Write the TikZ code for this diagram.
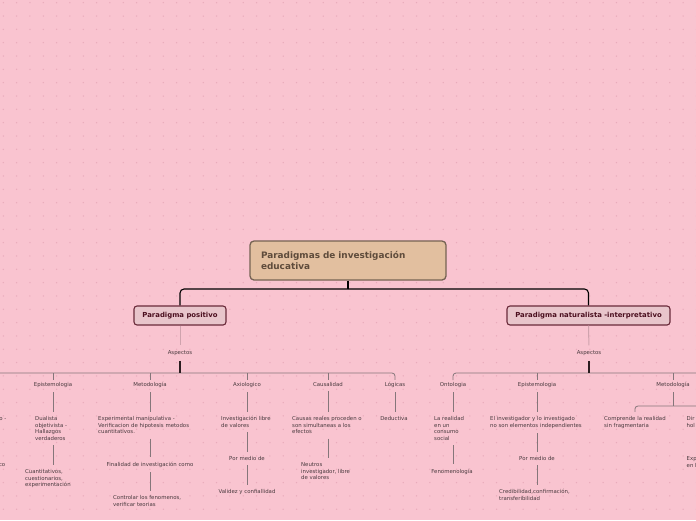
\documentclass[tikz,border=0pt]{standalone}
\usepackage{fontspec}
\setmainfont{DejaVu Sans}
\definecolor{bg}{HTML}{F9C4D0}
\definecolor{dotc}{HTML}{E9ABBB}
\definecolor{rootfill}{HTML}{E2BF9F}
\definecolor{rootdraw}{HTML}{756353}
\definecolor{roottext}{HTML}{5E4B3B}
\definecolor{parfill}{HTML}{E8C5CB}
\definecolor{pardraw}{HTML}{6A2A3A}
\definecolor{partext}{HTML}{4B0F1F}
\definecolor{txtc}{HTML}{4A3B3F}
\definecolor{connc}{HTML}{85767A}
\definecolor{lightc}{HTML}{CFA3AD}
\definecolor{stemc}{HTML}{2B1D20}
\begin{document}
\begin{tikzpicture}[x=1pt,y=-1pt,
  small/.style={font=\fontsize{5.4}{6.6}\selectfont, text=txtc, inner sep=0pt, align=left},
  hdr/.style={small, anchor=base},
  blk/.style={small, anchor=north west},
  frag/.style={small, anchor=base east},
  conn/.style={draw=connc, line width=0.8pt, shorten <=4.5pt, shorten >=4.5pt},
  bar/.style={draw=connc, line width=0.8pt, rounded corners=3pt},
  tick/.style={draw=connc, line width=0.8pt},
  lightstem/.style={draw=lightc, line width=1pt, shorten >=5pt},
  stem/.style={draw=stemc, line width=1.5pt, shorten <=5pt},
  rootbox/.style={draw=rootdraw, fill=rootfill, line width=1.3pt, rounded corners=4pt,
    text=roottext, font=\fontsize{8.9}{11}\selectfont\bfseries, align=left,
    text width=174pt, inner xsep=11pt, minimum height=39pt},
  parbox/.style={draw=pardraw, fill=parfill, line width=1.1pt, rounded corners=3pt,
    text=partext, font=\fontsize{6.9}{8}\selectfont\bfseries, minimum height=19pt, inner xsep=3pt},
  rootconn/.style={draw=black, line width=1.1pt, rounded corners=4pt}
]
\useasboundingbox (0,0) rectangle (696,520);
\fill[bg] (0,0) rectangle (696,520);
\begin{scope}
\clip (0,0) rectangle (696,520);
\foreach \i in {0,...,52}{\foreach \j in {0,...,39}{\fill[dotc] (3.3+13.33*\i,2.7+13.33*\j) circle (0.75pt);}}

% root and paradigms
\node[rootbox] (root) at (348,260.5) {Paradigmas de investigación\\educativa};
\node[parbox, minimum width=92pt] (pp) at (180,315.5) {Paradigma positivo};
\node[parbox, minimum width=163pt] (pn) at (588.5,315.5) {Paradigma naturalista -interpretativo};
\coordinate (rj) at (348,289);
\draw[draw=black, line width=1.1pt] (root.south) -- (rj);
\draw[rootconn] (rj) -| (pp.north);
\draw[rootconn] (rj) -| (pn.north);

% Aspectos
\node[hdr] (asp1) at (180,354.5) {Aspectos};
\node[hdr] (asp2) at (589,354.5) {Aspectos};
\coordinate (bL) at (180,373);
\coordinate (bR) at (589,373);
\coordinate (bLend) at (-40,373);
\coordinate (bRend) at (740,373);
\draw[lightstem] (pp.south) -- (asp1.north);
\draw[lightstem] (pn.south) -- (asp2.north);

% left headers
\node[hdr] (hE) at (53,386.5) {Epistemologia};
\node[hdr] (hM) at (150,386.5) {Metodología};
\node[hdr] (hA) at (247,386.5) {Axiologico};
\node[hdr] (hC) at (328,386.5) {Causalidad};
\node[hdr] (hL) at (395,386.5) {Lógicas};
\draw[bar] (bLend) -- (bL) -| ([yshift=2pt]hL.north);
\foreach \h in {hE,hM,hA,hC}{\draw[tick] (\h.north |- bL) -- ([yshift=2pt]\h.north);}
\draw[stem] (asp1.south) -- (bL);

% left blocks
\node[blk] (e1) at (35,416.4) {Dualista\\objetivista -\\Hallazgos\\verdaderos};
\node[blk] (e2) at (25,469.4) {Cuantitativos,\\cuestionarios,\\experimentación};
\node[blk] (m1) at (98,416.4) {Experimental manipulativa -\\Verificacion de hipotesis metodos\\cuantitativos.};
\node[hdr] (m2) at (150,466.5) {Finalidad de investigación como};
\node[blk] (m3) at (113,495.4) {Controlar los fenomenos,\\verificar teorias};
\node[blk] (a1) at (221,416.4) {Investigación libre\\de valores};
\node[hdr] (a2) at (247,460.5) {Por medio de};
\node[hdr] (a3) at (247,493.5) {Validez y confiallidad};
\node[blk] (c1) at (292,416.4) {Causas reales proceden o\\son simultaneas a los\\efectos};
\node[blk] (c2) at (301,462.4) {Neutros\\investigador, libre\\de valores};
\node[hdr] (l1) at (394,420.5) {Deductiva};
\node[frag] (f1) at (6.5,420.5) {o -};
\node[frag] (f2) at (5.5,466.5) {co};

\draw[conn] (hE.south) -- (hE.south |- e1.north);
\draw[conn] (hE.south |- e1.south) -- (hE.south |- e2.north);
\draw[conn] (hM.south) -- (hM.south |- m1.north);
\draw[conn] (hM.south |- m1.south) -- (m2.north);
\draw[conn] (m2.south) -- (m2.south |- m3.north);
\draw[conn] (hA.south) -- (hA.south |- a1.north);
\draw[conn] (hA.south |- a1.south) -- (a2.north);
\draw[conn] (a2.south) -- (a3.north);
\draw[conn] (hC.south) -- (hC.south |- c1.north);
\draw[conn] (hC.south |- c1.south) -- (hC.south |- c2.north);
\draw[conn] (hL.south) -- (hL.south |- l1.north);

% right headers
\node[hdr] (hO) at (453,386.5) {Ontologia};
\node[hdr] (hP) at (537,386.5) {Epistemologia};
\node[hdr] (hQ) at (673,386.5) {Metodología};
\draw[bar] ([yshift=2pt]hO.north) |- (bRend);
\foreach \h in {hP,hQ}{\draw[tick] (\h.north |- bR) -- ([yshift=2pt]\h.north);}
\draw[stem] (asp2.south) -- (bR);

% right blocks
\node[blk] (o1) at (434,416.4) {La realidad\\en un\\consumo\\social};
\node[hdr] (o2) at (452,473.5) {Fenomenología};
\node[blk] (p1) at (490,416.4) {El investigador y lo investigado\\no son elementos independientes};
\node[hdr] (p2) at (537,460.5) {Por medio de};
\node[blk] (p3) at (499,489.4) {Credibilidad,confirmación,\\transferibilidad};
\node[blk] (q1) at (604,416.4) {Comprende la realidad\\sin fragmentaria};
\node[blk] (q2) at (686.5,416.4) {Dir\\hol};
\node[blk] (q3) at (686.5,456.4) {Exp\\en l};

\draw[conn] (hO.south) -- (hO.south |- o1.north);
\draw[conn] (hO.south |- o1.south) -- (hO.south |- o2.north);
\draw[conn] (hP.south) -- (hP.south |- p1.north);
\draw[conn] (hP.south |- p1.south) -- (p2.north);
\draw[conn] (p2.south) -- (p2.south |- p3.north);
\coordinate (mR) at (673,406);
\coordinate (mRend) at (740,406);
\draw[tick, shorten <=4.5pt] (hQ.south) -- (mR);
\draw[bar, shorten >=4.5pt] (mRend) -| (q1.north);
\end{scope}
\end{tikzpicture}
\end{document}
